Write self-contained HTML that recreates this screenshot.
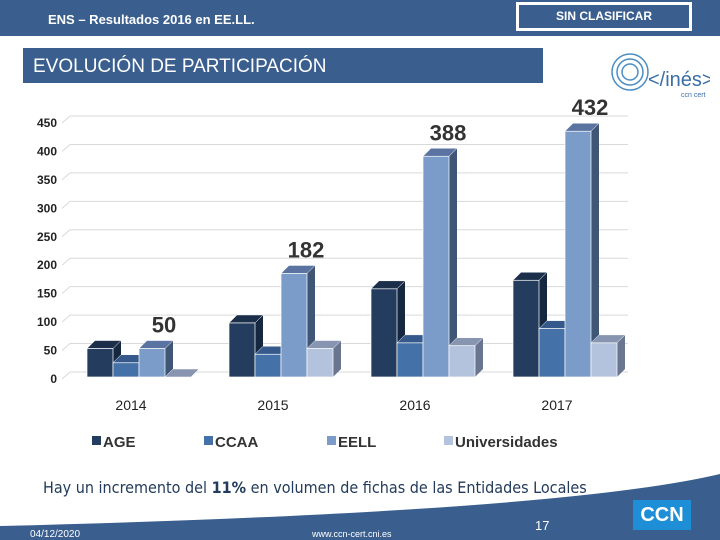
<!DOCTYPE html>
<html><head><meta charset="utf-8">
<style>
body{margin:0;width:720px;height:540px;overflow:hidden;background:#fff;font-family:"Liberation Sans",sans-serif;position:relative}
.abs{position:absolute}
</style></head><body>
<div class="abs" style="left:0;top:0;width:720px;height:36px;background:#3a5f8f"></div>
<div class="abs" style="left:48px;top:12px;color:#fff;font-size:13px;font-weight:bold">ENS – Resultados 2016 en EE.LL.</div>
<div class="abs" style="left:516px;top:2px;width:176px;height:29px;border:3px solid #fff;box-sizing:border-box;color:#fff;font-size:12px;font-weight:bold;text-align:center;line-height:23px">SIN CLASIFICAR</div>
<div class="abs" style="left:23px;top:48px;width:520px;height:35px;background:#3a5f8f;color:#fff;font-size:19px;line-height:37px;padding-left:10px;box-sizing:border-box">EVOLUCIÓN DE PARTICIPACIÓN</div>
<div class="abs" style="left:606px;top:44px;width:104px;height:55px">
<svg width="104" height="55"><g fill="none" stroke="#4a8cc4" stroke-width="1.5"><circle cx="24" cy="28" r="8"/><circle cx="24" cy="28" r="13"/><circle cx="24" cy="28" r="18"/></g><text x="42" y="42" font-size="20" fill="#3a6ea5" font-family="Liberation Sans">&lt;/inés&gt;</text><text x="75" y="53" font-size="7" fill="#3a6ea5">ccn cert</text></svg></div>
<svg class="abs" style="left:0;top:0" width="720" height="540" id="chart"></svg>
<svg class="abs" style="left:0;top:0" width="720" height="540"><path d="M0,526 Q560,512 720,474 L720,540 L0,540 Z" fill="#3a5f8f"/></svg>
<div class="abs" style="left:43px;top:478px;font-size:16px;color:#233b5c;font-family:'DejaVu Sans Condensed','Liberation Sans',sans-serif">Hay un incremento del <b>11%</b> en volumen de fichas de las Entidades Locales</div>
<div class="abs" style="left:30px;top:529px;font-size:10px;color:#fff">04/12/2020</div>
<div class="abs" style="left:312px;top:529px;font-size:9px;color:#fff">www.ccn-cert.cni.es</div>
<div class="abs" style="left:535px;top:518px;font-size:13px;color:#fff">17</div>
<div class="abs" style="left:633px;top:500px;width:58px;height:30px;background:#1e8ed6;color:#fff;font-weight:bold;font-size:20px;text-align:center;line-height:30px">CCN</div>
<script>
const categories=["2014","2015","2016","2017"];
const series=["AGE","CCAA","EELL","Universidades"];
const AGE=[50,95,155,170];
const CCAA=[25,40,60,85];
const EELL=[50,182,388,432];
const UNIV=[0,50,55,60];
const yTicks=[0,50,100,150,200,250,300,350,400,450];
const labelVals=[50,182,388,432];
const colors=["#243d5e","#4472a8","#7b9bc8","#b4c3dd"];
const sides=["#162740","#2c4d78","#3f5676","#6a7690"];
const tops=["#1b2f4a","#34598a","#5a73a0","#8795b0"];
const svg=document.getElementById('chart');
const NS="http://www.w3.org/2000/svg";
const y=v=>377-v*0.5689;
const gx=i=>87+i*142;
const bw=26,dx=8,dy=8;
function mk(t,a){const e=document.createElementNS(NS,t);for(const k in a)e.setAttribute(k,a[k]);svg.appendChild(e);return e;}
yTicks.forEach(t=>{
 const l=mk('line',{x1:70,x2:628,y1:y(t)-5,y2:y(t)-5,stroke:'#d9d9d9'});
 
 
 const d=mk('line',{x1:62,x2:70,y1:y(t)+2,y2:y(t)-5,stroke:'#d9d9d9'});
 
 
 const tx=mk('text',{x:57,y:y(t)+6,'text-anchor':'end','font-size':12,'font-weight':'bold',fill:'#222'});
 tx.textContent=t;
 
 
});
const data=[AGE,CCAA,EELL,UNIV];
categories.forEach((c,i)=>{
 for(let s=0;s<4;s++){
  const v=data[s][i];const x=gx(i)+s*bw;const yt=y(v),yb=377;
  const side=mk('polygon',{points:`${x+bw},${yt} ${x+bw+dx},${yt-dy} ${x+bw+dx},${yb-dy} ${x+bw},${yb}`,fill:sides[s]});
  
  
  const top=mk('polygon',{points:`${x},${yt} ${x+dx},${yt-dy} ${x+bw+dx},${yt-dy} ${x+bw},${yt}`,fill:tops[s],stroke:'#fff','stroke-width':0.5});
  
  
  if(v>0){const r=mk('rect',{x:x,y:yt,width:bw,height:yb-yt,fill:colors[s],stroke:'#fff','stroke-width':0.7});
  
  }
 }
 const lb=mk('text',{x:gx(i)+2*bw+bw/2+12,y:y(labelVals[i])-16,'text-anchor':'middle','font-size':22,'font-weight':'bold',fill:'#333'});
 lb.textContent=labelVals[i];
 
 
 const cx=mk('text',{x:gx(i)+44,y:410,'text-anchor':'middle','font-size':14,fill:'#222'});
 cx.textContent=c;
 
 
});
const lx=[92,204,327,444];
series.forEach((s,i)=>{
 const r=mk('rect',{x:lx[i],y:436,width:9,height:9,fill:colors[i]});
 
 
 const t=mk('text',{x:lx[i]+11,y:447,'font-size':15,'font-weight':'bold',fill:'#333'});
 t.textContent=s;
 
 
});
</script>
</body></html>
